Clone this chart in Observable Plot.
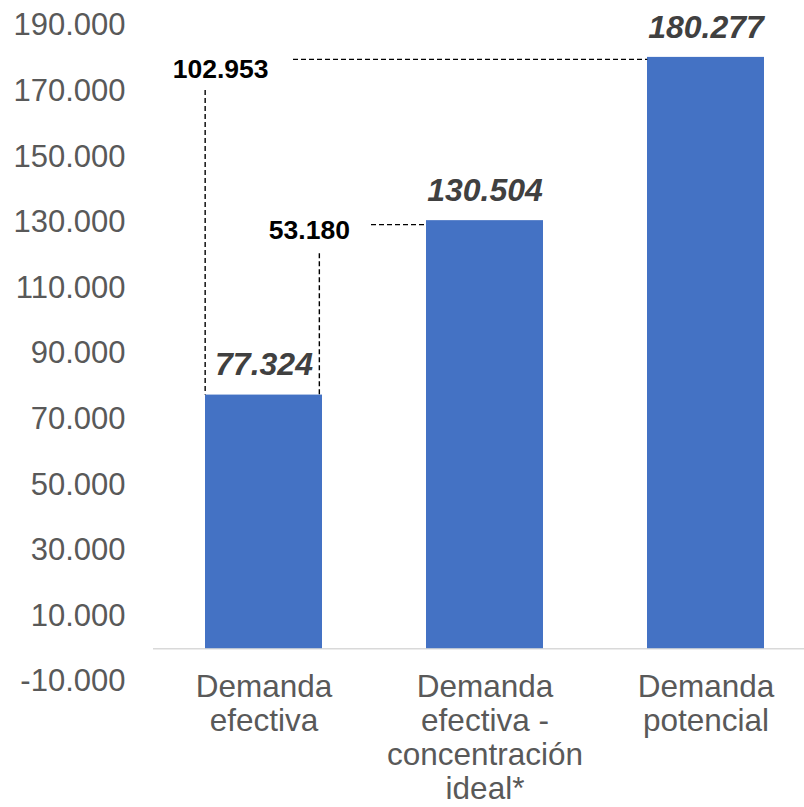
<!DOCTYPE html>
<html><head><meta charset="utf-8">
<script src="https://cdn.jsdelivr.net/npm/d3@7"></script>
<script src="https://cdn.jsdelivr.net/npm/@observablehq/plot@0.6"></script>
<style>
html,body{margin:0;padding:0;background:#fff;}
#chart svg{display:block;}
</style></head><body><div id="chart"></div>
<script>
// ---- data ----
const categories = ["Demanda\nefectiva", "Demanda\nefectiva -\nconcentración\nideal*", "Demanda\npotencial"];
const values = [77324, 130504, 180277];
const yTicks = [-10000, 10000, 30000, 50000, 70000, 90000, 110000, 130000, 150000, 170000, 190000];
const gapFrom = [0, 0];   // index of the lower bar of each gap annotation
const gapTo = [2, 1];     // index of the higher bar of each gap annotation

// ---- derived tables ----
const fmt = d3.formatLocale({decimal: ",", thousands: ".", grouping: [3], currency: ["", ""], minus: "-"}).format(",d");
const rows = categories.map((c, i) => ({cat: c, value: values[i]}));
const gaps = gapFrom.map((f, i) => ({from: categories[f], to: categories[gapTo[i]], lo: values[f], hi: values[gapTo[i]]}));
const bigGap = [gaps[0]], smallGap = [gaps[1]];

const xOpts = {type: "band", domain: categories, range: [153, 816], paddingInner: 0.472, paddingOuter: 0.236};
const bw = Plot.scale({x: xOpts}).bandwidth;

const dash = {stroke: "#000", strokeWidth: 1.4, strokeDasharray: "5,3"};

const chart = Plot.plot({
  width: 804,
  height: 807,
  marginTop: 25,
  marginBottom: 126,
  marginLeft: 153,
  marginRight: 0,
  style: {fontFamily: "'Liberation Sans', Arial, sans-serif", background: "#fff"},
  x: xOpts,
  y: {domain: [-10000, 190000]},
  marks: [
    Plot.ruleY([0], {stroke: "#d9d9d9", strokeWidth: 1.5}),
    Plot.barY(rows, {x: "cat", y: "value", fill: "#4472C4"}),
    Plot.axisY(yTicks, {tickSize: 0, tickPadding: 28, tickFormat: fmt, fontSize: 31, fill: "#595959", label: null}),
    Plot.axisX({tickSize: 0, tickPadding: 0, dy: -9, fontSize: 31.5, lineHeight: 1.08, fill: "#595959", label: null}),
    // value labels
    Plot.text(rows, {x: "cat", y: "value", text: d => fmt(d.value), dy: -30, fontSize: 32, fontWeight: "bold", fontStyle: "italic", fill: "#404040"}),
    // big gap annotation
    Plot.ruleX(bigGap, {x: "from", y1: "hi", y2: "lo", dx: -bw / 2 - 0.5, insetTop: 33, ...dash}),
    Plot.ruleY(bigGap, {y: "hi", x1: "from", x2: "to", insetLeft: 88, insetRight: bw, dy: 2, ...dash}),
    Plot.text(bigGap, {x: "from", y: "hi", text: d => fmt(d.hi - d.lo), dx: -bw / 2 + 15, dy: 12, fontSize: 26.5, fontWeight: "bold", fill: "#000"}),
    // small gap annotation
    Plot.ruleX(smallGap, {x: "from", y1: "hi", y2: "lo", dx: bw / 2 - 3, insetTop: 33, ...dash}),
    Plot.ruleY(smallGap, {y: "hi", x1: "from", x2: "to", insetLeft: 166, insetRight: bw, dy: 4, ...dash}),
    Plot.text(smallGap, {x: "from", y: "hi", text: d => fmt(d.hi - d.lo), dx: bw / 2 - 13, dy: 10, fontSize: 26.5, fontWeight: "bold", fill: "#000"})
  ]
});
document.getElementById("chart").appendChild(chart);
</script>
</body></html>
